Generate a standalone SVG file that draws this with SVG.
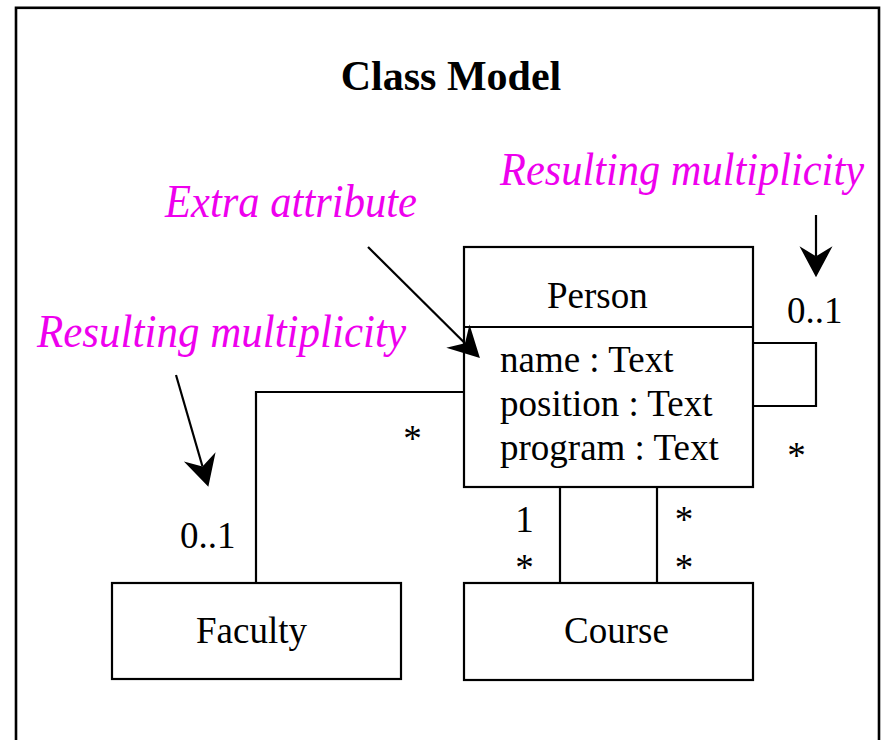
<svg xmlns="http://www.w3.org/2000/svg" width="883" height="740" viewBox="0 0 883 740">
<style>
.box{fill:#fff;stroke:#000;stroke-width:2.2}
.ln{fill:none;stroke:#000;stroke-width:2.2}
.t{font-family:"Liberation Serif","Times New Roman",serif;font-size:37px;fill:#000}
.note{font-family:"Liberation Serif","Times New Roman",serif;font-size:47px;font-style:italic;fill:#ee00ee}
.title{font-family:"Liberation Serif","Times New Roman",serif;font-size:42px;font-weight:bold;fill:#000}
.ar{fill:none;stroke:#000;stroke-width:2.2;marker-end:url(#ah)}
</style>
<defs>
<marker id="ah" markerUnits="userSpaceOnUse" markerWidth="40" markerHeight="40" refX="0" refY="0" orient="auto" overflow="visible">
<path d="M21,0 L-10,-16.5 L0,0 L-10,16.5 Z" fill="#000"/>
</marker>
</defs>
<rect x="0" y="0" width="883" height="740" fill="#fff"/>
<rect id="frame" x="16" y="7.8" width="863" height="800" fill="none" stroke="#000" stroke-width="2.6"/>
<text class="title" x="451" y="90" text-anchor="middle">Class Model</text>

<g id="person">
<rect class="box" x="464" y="247" width="289" height="240"/>
<line class="ln" x1="464" y1="327" x2="753" y2="327"/>
<text class="t" x="547" y="308">Person</text>
<text class="t" x="500" y="372">name : Text</text>
<text class="t" x="500" y="416">position : Text</text>
<text class="t" x="500" y="460">program : Text</text>
</g>
<g id="faculty">
<rect class="box" x="112" y="583" width="289" height="96"/>
<text class="t" x="196" y="643">Faculty</text>
</g>
<g id="course">
<rect class="box" x="464" y="583" width="289" height="97"/>
<text class="t" x="564" y="643">Course</text>
</g>

<g id="connectors">
<polyline class="ln" points="464,392 256,392 256,583"/>
<polyline class="ln" points="753,343 816,343 816,406 753,406"/>
<line class="ln" x1="560" y1="487" x2="560" y2="583"/>
<line class="ln" x1="657" y1="487" x2="657" y2="583"/>
<line class="ar" x1="368" y1="247" x2="465" y2="343.2"/>
<line class="ar" x1="176" y1="375" x2="202.5" y2="466.5"/>
<line class="ar" x1="816" y1="215" x2="816" y2="256.3"/>
</g>

<g id="labels">
<text class="t" x="787" y="323">0..1</text>
<text class="t" x="796.5" y="468" text-anchor="middle">*</text>
<text class="t" x="412.5" y="451" text-anchor="middle">*</text>
<text class="t" x="180" y="548">0..1</text>
<text class="t" x="524.5" y="532" text-anchor="middle">1</text>
<text class="t" x="524.5" y="580" text-anchor="middle">*</text>
<text class="t" x="684" y="532" text-anchor="middle">*</text>
<text class="t" x="684" y="580" text-anchor="middle">*</text>
</g>

<g id="notes">
<text class="note" x="165" y="217" textLength="252" lengthAdjust="spacingAndGlyphs">Extra attribute</text>
<text class="note" x="37" y="347" textLength="369" lengthAdjust="spacingAndGlyphs">Resulting multiplicity</text>
<text class="note" x="500" y="185" textLength="364" lengthAdjust="spacingAndGlyphs">Resulting multiplicity</text>
</g>
</svg>
